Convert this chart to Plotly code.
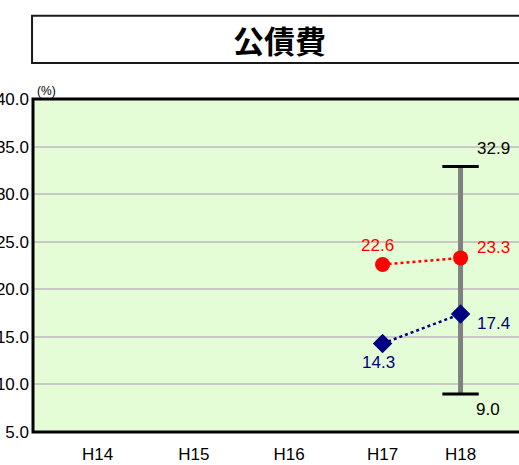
import plotly.graph_objects as go

categories = ["H14", "H15", "H16", "H17", "H18"]
# x positions on the axis for each category label
cat_pos = [1.0, 2.0, 2.99, 3.96, 4.77]

red_x = ["H17", "H18"]
red_vals = [22.6, 23.3]
blue_x = ["H17", "H18"]
blue_vals = [14.3, 17.4]
range_x = "H18"
range_min = 9.0
range_max = 32.9

y_ticks = [5, 10, 15, 20, 25, 30, 35, 40]

pos = dict(zip(categories, cat_pos))
FONT = "Liberation Sans, Arial, sans-serif"
FS = 17

fig = go.Figure()

# gray range bar
fig.add_trace(go.Scatter(
    x=[pos[range_x], pos[range_x]], y=[range_min, range_max],
    mode="lines", line=dict(color="#808080", width=5),
    hoverinfo="skip", showlegend=False))
# caps
fig.add_trace(go.Scatter(
    x=[pos[range_x], pos[range_x]], y=[range_min, range_max],
    mode="markers",
    marker=dict(symbol="line-ew", size=26, line=dict(color="black", width=3)),
    hoverinfo="skip", showlegend=False))

# red series
fig.add_trace(go.Scatter(
    x=[pos[c] for c in red_x], y=red_vals, mode="lines+markers",
    line=dict(color="#FF0000", width=2.5, dash="dot"),
    marker=dict(symbol="circle", size=15, color="#FF0000"),
    showlegend=False))
# blue series
fig.add_trace(go.Scatter(
    x=[pos[c] for c in blue_x], y=blue_vals, mode="lines+markers",
    line=dict(color="#000080", width=2.5, dash="dot"),
    marker=dict(symbol="diamond", size=15, color="#000080"),
    showlegend=False))

annotations = []
red_shifts = [(-5, 19.5), (32.5, 10)]
for c, v, (dx, dy) in zip(red_x, red_vals, red_shifts):
    annotations.append(dict(x=pos[c], y=v, text=f"{v:.1f}", showarrow=False,
                            xshift=dx, yshift=dy,
                            font=dict(family=FONT, size=FS, color="#FF0000")))
blue_shifts = [(-4, -18.5), (32.5, -9)]
for c, v, (dx, dy) in zip(blue_x, blue_vals, blue_shifts):
    annotations.append(dict(x=pos[c], y=v, text=f"{v:.1f}", showarrow=False,
                            xshift=dx, yshift=dy,
                            font=dict(family=FONT, size=FS, color="#000080")))
annotations.append(dict(x=pos[range_x], y=range_max, text=f"{range_max:.1f}",
                        showarrow=False, xshift=32.5, yshift=18.5,
                        font=dict(family=FONT, size=FS, color="black")))
annotations.append(dict(x=pos[range_x], y=range_min, text=f"{range_min:.1f}",
                        showarrow=False, xshift=27.5, yshift=-16,
                        font=dict(family=FONT, size=FS, color="black")))
# (%)
annotations.append(dict(xref="paper", yref="paper", x=0.0, y=1.0, text="(%)",
                        showarrow=False, xanchor="left", yanchor="bottom",
                        xshift=2, yshift=-1,
                        font=dict(family=FONT, size=12, color="black")))
# title
annotations.append(dict(xref="paper", yref="paper", x=0.508, y=1.179,
                        text="<b>公債費</b>", showarrow=False,
                        xanchor="center", yanchor="middle",
                        font=dict(family="Noto Sans CJK JP", size=31, color="black")))

shapes = [
    # title box
    dict(type="rect", xref="paper", yref="paper", x0=-0.002, x1=1.02,
         y0=1.108, y1=1.25, line=dict(color="#1a1a1a", width=2),
         fillcolor="white", layer="below"),
    # plot border
    dict(type="rect", xref="paper", yref="paper", x0=0, x1=1.1, y0=0, y1=1,
         line=dict(color="black", width=3), layer="above"),
]

fig.update_layout(
    width=519, height=465,
    margin=dict(l=33, r=0, t=99, b=33),
    paper_bgcolor="white", plot_bgcolor="#E4FDD6",
    font=dict(family=FONT, size=FS, color="black"),
    annotations=annotations, shapes=shapes,
    xaxis=dict(range=[0.330, 5.377], tickvals=cat_pos, ticktext=categories,
               showgrid=False, zeroline=False, showline=False, ticks="",
               automargin=False,
               tickfont=dict(family=FONT, size=FS, color="black"), ticklabelstandoff=10),
    yaxis=dict(range=[5, 40], tickvals=y_ticks, tickformat=".1f",
               showgrid=True, gridcolor="#C8C8C8", gridwidth=1.5,
               zeroline=False, showline=False, ticks="", automargin=False,
               tickfont=dict(family=FONT, size=FS, color="black"), ticklabelstandoff=3),
)

fig.write_html("out.html")
